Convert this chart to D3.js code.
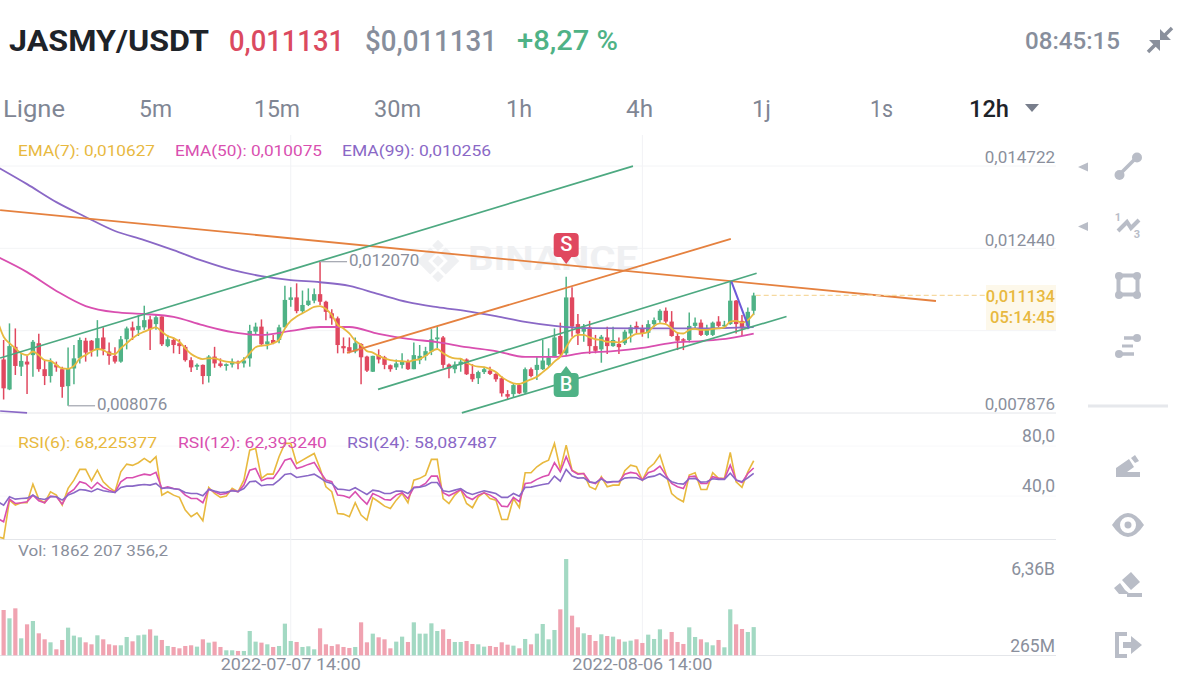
<!DOCTYPE html>
<html><head><meta charset="utf-8">
<script src="https://cdnjs.cloudflare.com/ajax/libs/d3/7.8.5/d3.min.js"></script>
<style>html,body{margin:0;padding:0;background:#fff;overflow:hidden}svg{display:block}text{font-family:Roboto,"Noto Sans",sans-serif}</style>
</head><body><svg id="c" width="1200" height="675"></svg>
<script>
// prices are in thousandths of a USDT; each row is open, close, high, low
const ohlc=[
[9.62,9.16,9.81,8.79],[9.36,8.56,9.90,8.25],[8.53,9.73,10.36,8.51],[9.71,9.18,10.22,8.93],[9.16,9.32,9.53,8.90],[9.30,9.22,9.46,8.40],[9.48,9.85,9.90,8.88],[9.81,9.09,10.07,9.02],[9.09,8.90,9.34,8.65],[8.90,9.30,9.39,8.72],
[9.21,9.14,9.30,9.02],[9.09,8.60,9.16,8.30],[8.62,9.11,9.69,8.076],[9.11,9.39,9.76,8.67],[9.39,9.90,9.97,9.25],[9.88,9.55,9.96,9.30],[9.88,9.60,9.90,9.44],[9.62,9.95,10.45,9.44],[9.97,9.64,10.25,9.48],[9.58,9.46,9.83,9.21],
[9.46,9.30,9.70,9.25],[9.30,9.92,10.01,9.27],[9.92,10.22,10.27,9.64],[10.25,10.16,10.41,9.90],[10.18,10.29,10.59,10.01],[10.25,10.45,10.85,10.18],[10.47,10.20,10.57,9.62],[10.34,10.53,10.59,10.18],[10.55,9.78,10.56,9.73],[9.73,9.92,10.04,9.70],
[9.90,9.76,9.97,9.53],[9.81,9.73,9.92,9.51],[9.71,9.34,9.76,9.30],[9.34,9.14,9.42,9.01],[9.16,9.21,9.25,9.07],[9.21,8.90,9.22,8.67],[8.90,9.44,9.48,8.72],[9.44,9.25,9.71,9.13],[9.25,9.18,9.39,9.14],[9.18,9.23,9.25,9.05],
[9.22,9.30,9.39,9.14],[9.30,9.25,9.33,9.09],[9.25,9.33,9.42,9.14],[9.39,10.15,10.32,9.16],[10.13,10.27,10.38,10.04],[10.27,9.78,10.47,9.76],[9.78,9.86,10.13,9.64],[9.90,9.81,10.04,9.78],[9.90,10.25,10.32,9.81],[10.25,11.01,11.40,10.25],
[11.01,11.08,11.36,10.82],[11.08,10.70,11.47,10.64],[10.70,10.87,11.27,10.64],[10.87,10.99,11.33,10.84],[10.99,11.17,11.33,10.92],[11.17,10.96,12.07,10.87],[10.96,10.68,10.99,10.45],[10.64,10.50,10.75,10.32],[10.50,9.76,10.55,9.53],[9.73,9.67,9.97,9.53],
[9.70,9.58,9.97,9.53],[9.58,9.81,9.97,9.53],[9.79,9.42,9.81,8.67],[9.44,9.05,9.46,9.01],[9.02,9.46,9.46,9.01],[9.48,9.36,9.64,9.25],[9.42,9.21,9.46,9.09],[9.20,9.09,9.22,9.02],[9.14,9.25,9.36,9.07],[9.21,9.30,9.53,9.11],
[9.30,9.09,9.36,9.07],[9.09,9.48,9.83,9.09],[9.34,9.46,9.76,9.23],[9.46,9.59,9.71,9.33],[9.58,9.92,10.20,9.48],[9.92,9.97,10.27,9.67],[9.97,9.21,10.01,9.11],[9.22,9.11,9.25,8.84],[9.09,9.22,9.30,8.98],[9.22,9.30,9.39,9.02],
[9.36,8.95,9.39,8.93],[8.96,8.81,9.23,8.74],[8.84,9.01,9.05,8.68],[9.01,9.09,9.16,8.96],[9.05,8.96,9.16,8.93],[8.96,8.81,8.98,8.74],[8.84,8.42,8.90,8.33],[8.40,8.33,8.51,8.26],[8.40,8.65,8.68,8.30],[8.65,8.42,8.70,8.40],
[8.44,9.09,9.14,8.40],[9.09,8.90,9.14,8.87],[9.07,9.21,9.44,8.79],[9.09,9.33,9.90,9.07],[9.21,9.42,9.67,9.16],[9.42,9.97,10.22,9.42],[10.01,9.51,10.38,9.44],[9.53,11.08,11.65,9.48],[11.08,10.27,11.36,9.99],[10.34,10.08,10.62,9.76],
[10.13,10.25,10.34,9.85],[10.25,9.73,10.43,9.51],[9.73,9.60,10.04,9.53],[9.64,9.99,10.04,9.27],[9.97,9.73,10.27,9.51],[9.73,9.90,10.27,9.71],[9.79,9.70,9.97,9.51],[9.81,10.13,10.18,9.76],[10.08,10.25,10.32,9.83],[10.29,10.22,10.41,10.08],
[10.22,10.08,10.32,9.99],[10.10,10.34,10.45,9.95],[10.34,10.45,10.52,10.25],[10.45,10.71,10.75,10.38],[10.71,10.41,10.80,10.36],[10.41,10.01,10.70,9.99],[10.01,9.88,10.10,9.62],[9.92,9.88,9.95,9.62],[9.90,10.29,10.66,9.83],[10.29,10.38,10.52,10.20],
[10.38,10.04,10.47,10.01],[10.04,10.18,10.32,10.01],[10.04,10.38,10.41,10.01],[10.41,10.29,10.56,10.25],[10.29,10.32,10.43,10.22],[10.34,10.99,11.52,10.32],[10.99,10.34,11.01,10.08],[10.43,10.22,10.59,10.01],[10.29,10.68,10.80,10.20],[10.71,11.134,11.21,10.59]];
const ema7=[10.41,9.99,9.81,9.67,9.53,9.48,9.58,9.48,9.34,9.32,9.21,9.11,9.10,9.18,9.39,9.48,9.58,9.65,9.62,9.53,9.51,9.67,9.81,9.95,10.06,10.13,10.20,10.25,10.13,10.01,9.95,9.85,9.67,9.51,9.42,9.37,9.39,9.39,9.34,9.30,9.28,9.27,9.36,9.53,9.70,9.74,9.76,9.81,9.90,10.22,10.43,10.55,10.64,10.73,10.82,10.84,10.76,10.59,10.32,10.22,10.08,9.88,9.76,9.59,9.55,9.46,9.39,9.34,9.32,9.31,9.30,9.34,9.37,9.46,9.58,9.65,9.53,9.44,9.39,9.38,9.27,9.20,9.16,9.15,9.09,9.01,8.87,8.77,8.70,8.68,8.74,8.81,8.88,9.01,9.14,9.30,9.44,9.70,9.95,10.04,10.04,9.97,9.92,9.90,9.85,9.85,9.83,9.90,9.99,10.07,10.08,10.13,10.29,10.36,10.34,10.22,10.10,10.08,10.18,10.21,10.18,10.18,10.21,10.22,10.25,10.41,10.43,10.38,10.45,10.627];
const ema50Index=[0,5,10,15,20,25,30,35,40,45,50,55,60,65,70,75,80,85,90,95,100,105,110,115,120,125,129];
const ema50=[12.20,11.78,11.26,10.84,10.67,10.62,10.54,10.31,10.12,10.04,10.15,10.26,10.26,10.07,9.93,9.84,9.70,9.59,9.43,9.43,9.54,9.59,9.68,9.82,9.87,9.95,10.075];
const ema99Index=[0,5,10,15,20,25,30,35,40,45,50,55,60,65,70,75,80,85,90,95,100,110,120,129];
const ema99=[14.69,14.22,13.72,13.31,12.92,12.67,12.39,12.09,11.84,11.67,11.56,11.50,11.40,11.17,10.95,10.81,10.70,10.56,10.40,10.29,10.23,10.22,10.22,10.256];
const rsi6=[7.4,6.1,36.7,32.7,34.6,34.6,49.5,37.5,34.6,43.4,40.7,32.7,46.1,52.7,61.3,61.3,52.2,60.7,51.4,46.9,43.4,59.4,65.5,64.5,66.6,70.1,66.9,71.4,40.7,43.4,40.7,38.9,28.7,23.4,26.6,20.2,46.9,42.0,38.9,39.9,46.1,43.4,52.7,76.7,78.1,54.1,57.5,57.5,71.4,82.1,82.1,66.0,68.7,71.4,74.0,62.0,47.4,43.4,26.0,25.5,23.4,34.6,24.7,20.7,38.6,35.4,31.9,30.0,36.7,42.0,34.6,52.7,54.1,56.7,69.3,69.3,38.0,34.0,40.7,45.2,34.0,30.6,39.4,42.8,38.0,36.7,21.2,21.2,38.0,30.8,58.6,58.6,63.4,66.6,68.7,82.0,61.3,80.7,60.7,58.0,58.0,47.4,45.2,55.4,47.4,48.7,48.7,60.2,64.7,63.4,52.7,62.0,66.0,72.7,58.0,42.0,38.0,35.4,56.7,58.6,45.2,45.2,58.6,54.1,54.1,74.8,51.4,46.9,59.4,68.2];
const rsi12=[22.0,19.4,37.5,34.0,34.6,35.4,40.7,36.2,34.6,39.9,39.4,33.5,42.0,45.2,51.4,50.0,46.0,50.8,46.9,44.7,42.8,51.4,54.6,54.6,56.2,57.5,56.7,58.9,46.0,47.4,46.0,45.2,40.7,38.0,38.0,34.6,45.5,43.4,41.2,42.0,44.7,43.4,48.7,60.7,62.0,52.2,54.1,54.1,60.7,68.7,70.0,62.0,63.4,65.3,66.9,59.4,52.7,51.4,40.7,40.2,38.6,43.4,38.0,33.5,42.0,39.9,37.2,36.7,40.7,42.6,38.0,46.9,47.4,50.0,55.9,55.9,42.6,40.2,42.6,45.2,39.4,37.2,40.7,42.6,40.7,38.0,31.9,31.4,38.9,35.4,50.0,50.6,53.3,55.4,56.7,66.6,59.4,71.4,60.2,57.5,58.0,51.4,50.0,54.6,50.6,51.4,51.4,57.5,58.9,58.0,52.7,58.6,60.2,63.9,56.7,50.0,47.4,46.0,55.4,55.9,50.0,50.0,55.4,54.1,53.5,64.7,52.7,50.8,58.0,62.4];
const rsi24=[35.4,32.7,39.4,37.5,38.0,38.3,40.7,38.0,37.2,39.4,39.4,36.7,40.7,42.6,45.2,44.7,43.4,45.8,44.2,43.4,42.8,46.9,47.9,47.9,48.7,49.2,48.7,50.0,46.0,46.6,45.8,45.2,42.8,42.0,42.0,40.2,45.2,43.9,42.8,43.1,44.2,43.6,46.0,51.4,51.9,48.2,49.0,49.0,52.7,57.2,58.0,54.8,55.6,56.4,57.5,54.6,51.4,50.0,45.5,45.2,44.4,46.6,43.9,41.2,44.7,43.9,42.0,42.0,43.9,43.9,42.0,46.6,47.1,48.2,50.8,50.8,44.2,43.4,44.7,46.0,42.8,41.2,42.8,44.2,43.1,42.0,38.9,38.9,42.0,39.9,46.9,47.1,48.2,49.2,50.0,55.9,51.9,61.3,55.9,54.3,54.6,51.1,50.6,53.5,51.1,51.6,51.6,54.3,54.8,54.6,52.7,55.1,55.9,57.8,54.6,51.4,50.0,49.5,53.8,54.1,51.1,51.4,53.8,53.3,53.3,58.3,52.7,51.4,54.6,58.1];
// volume in millions
const volume=[1100,2992,2442,3102,1122,2046,2266,1452,1056,858,396,1012,1826,1298,1188,858,726,1320,1056,726,660,660,1210,924,1320,1364,1716,1298,1012,616,550,462,616,660,572,1056,836,902,550,330,330,286,286,1606,902,836,726,550,616,2090,946,880,550,594,396,1782,726,616,726,550,484,550,2178,858,1430,1188,1056,462,902,1232,880,2178,1430,1430,2112,1606,1716,1078,880,880,946,748,726,572,616,550,858,704,638,462,1078,726,1430,2068,1056,1672,3036,6358,2618,1848,1452,1342,946,1386,1276,1232,1056,902,968,1056,814,1364,1078,1716,1056,1540,880,748,1848,1210,1056,858,660,1012,528,3036,2046,1738,1540,1862];
// drawn trendlines: candle index and price at both ends
const greenLines=[[0.4,9.40,108.4,14.72],[64.9,8.53,129.5,11.75],[79.2,7.88,134.6,10.55]];
const orangeLines=[[0.4,13.50,160.1,10.98],[59.6,9.54,125.1,12.70]];
const violetLine=[125.2,11.52,128.2,10.22];
const bottomStub=[0.4,7.93,5.0,7.88];
const priceTicks=[14.722,12.440,10.158,7.876];
const priceTickLabels=["0,014722","0,012440","","0,007876"];
const rsiTicks=[80,40];
const rsiTickLabels=["80,0","40,0"];
const volTickLabels=["6,36B","265M"];
const dateTickIndex=[50,110];
const dateTickLabels=["2022-07-07 14:00","2022-08-06 14:00"];
const tabs=["Ligne","5m","15m","30m","1h","4h","1j","1s","12h"];
const lastPrice=11.134, highMark=12.07, lowMark=8.076, highIndex=55, lowIndex=12, tradeIndex=97;

const GREEN="#4fb286",RED="#e0485f",GOLD="#e8b93f",MAG="#d94fb0",PUR="#8a68c6",GREY="#8a8f9c",ORG="#e5813f",LGT="#b9bdc7";
const svg=d3.select("#c");
const x=d3.scaleLinear().domain([0,129]).range([-2.24,753.7]);
const y=d3.scaleLinear().domain([14.722,7.876]).range([166,413]);
const yR=d3.scaleLinear().domain([80,40]).range([446,496]);
const yV=d3.scaleLinear().domain([0,6360]).range([655.3,559]);
svg.append("clipPath").attr("id","cp").append("rect").attr("x",0).attr("y",130).attr("width",1056).attr("height",530);
const txt=(g,t,a,b,o)=>{const e=g.append("text").attr("x",a).attr("y",b+2).text(t).attr("fill",o.c).attr("font-size",o.s).attr("font-weight",o.w||400).attr("text-anchor",o.a||"start").attr("dominant-baseline","middle");if(o.l)e.attr("textLength",o.l).attr("lengthAdjust","spacingAndGlyphs");return e;};

// header
const H=svg.append("g");
txt(H,"JASMY/USDT",9,41,{c:"#1e2329",s:30,w:700,l:200});
txt(H,"0,011131",229,41,{c:"#db4a60",s:29,w:500,l:115});
txt(H,"$0,011131",365,41,{c:"#878e9c",s:29,w:500,l:132});
txt(H,"+8,27 %",517,41,{c:"#4fb286",s:28,w:500,l:101});
txt(H,"08:45:15",1025,41,{c:"#878e9c",s:24,w:500,l:95});
// collapse icon
H.append("path").attr("fill","none").attr("stroke","#8a909c").attr("stroke-width",3.5).attr("d","M1172 28L1162 38M1148 52L1158 42");
H.append("path").attr("fill","#8a909c").attr("d","M1160 29L1160 40L1171 40ZM1149 40L1160 40L1160 51Z");
// tabs
const tabX=[3,139,254,374,506,626,752,870,969],tabW=[62,33,46,47,26,27,19,23,40];
tabs.forEach((t,i)=>txt(H,t,tabX[i],109,{c:i==8?"#1e2329":"#7f8694",s:24,w:i==8?500:400,l:tabW[i]}));
H.append("path").attr("fill","#787e8c").attr("d","M1025 104L1039 104L1032 112Z");

// grid
const G=svg.append("g");
priceTicks.forEach((p,i)=>G.append("line").attr("x1",0).attr("x2",1056).attr("y1",y(p)).attr("y2",y(p)).attr("stroke",i==3?"#e4e6ea":"#f3f4f6"));
rsiTicks.forEach(v=>G.append("line").attr("x1",0).attr("x2",1056).attr("y1",yR(v)).attr("y2",yR(v)).attr("stroke","#f8f8fa"));
G.append("line").attr("x1",0).attr("x2",1056).attr("y1",539.5).attr("y2",539.5).attr("stroke","#e4e6ea");
G.append("line").attr("x1",0).attr("x2",1056).attr("y1",655.5).attr("y2",655.5).attr("stroke","#e4e6ea");
dateTickIndex.forEach(i=>G.append("line").attr("x1",x(i)).attr("x2",x(i)).attr("y1",135).attr("y2",655).attr("stroke","#f1f2f5"));

// watermark
const W=svg.append("g").attr("fill","#eff0f2");
W.append("path").attr("transform","translate(438,261) rotate(45)").attr("d","M-15 -15H-7V-7H-15ZM-4 -15H15V4H7V-7H-4ZM-15 -4H-7V7H4V15H-15ZM-4 -4H4V4H-4ZM7 7H15V15H7Z");
txt(W,"BINANCE",468,259,{c:"#eff0f2",s:34,w:700,l:170});

// chart layer
const C=svg.append("g").attr("clip-path","url(#cp)");
const bodyW=4.4,isUp=d=>d[1]>=d[0];
const bars=C.selectAll("g.k").data(ohlc).join("g").attr("class","k");
bars.append("line").attr("x1",(d,i)=>x(i)).attr("x2",(d,i)=>x(i)).attr("y1",d=>y(d[2])).attr("y2",d=>y(d[3])).attr("stroke",d=>isUp(d)?GREEN:RED).attr("stroke-width",1.5);
bars.append("rect").attr("x",(d,i)=>x(i)-bodyW/2).attr("width",bodyW).attr("y",d=>y(Math.max(d[0],d[1]))).attr("height",d=>Math.max(1.5,Math.abs(y(d[0])-y(d[1])))).attr("fill",d=>isUp(d)?GREEN:RED);

const smooth=d3.line().curve(d3.curveMonotoneX);
C.append("path").attr("d",smooth(ema99.map((v,i)=>[x(ema99Index[i]),y(v)]))).attr("fill","none").attr("stroke",PUR).attr("stroke-width",1.8);
C.append("path").attr("d",smooth(ema50.map((v,i)=>[x(ema50Index[i]),y(v)]))).attr("fill","none").attr("stroke",MAG).attr("stroke-width",1.8);
C.append("path").attr("d",smooth(ema7.map((v,i)=>[x(i),y(v)]))).attr("fill","none").attr("stroke",GOLD).attr("stroke-width",1.8);

// trendlines
const seg=(l,c,w)=>C.append("line").attr("x1",x(l[0])).attr("y1",y(l[1])).attr("x2",x(l[2])).attr("y2",y(l[3])).attr("stroke",c).attr("stroke-width",w);
orangeLines.forEach(l=>seg(l,ORG,1.8));
greenLines.forEach(l=>seg(l,"#4da981",1.7));
seg(violetLine,"#6d5ad8",2);
seg(bottomStub,PUR,1.6);

// current price
C.append("line").attr("x1",x(129)+2).attr("x2",985).attr("y1",y(lastPrice)).attr("y2",y(lastPrice)).attr("stroke","#f6d9a0").attr("stroke-width",1.2).attr("stroke-dasharray","5 3");
svg.append("rect").attr("x",986).attr("y",285).attr("width",70).attr("height",45).attr("fill","#fdf8ea");
txt(svg,"0,011134",1055,296,{c:GOLD,s:16.5,w:500,a:"end"});
txt(svg,"05:14:45",1055,317,{c:GOLD,s:16.5,w:500,a:"end"});

// high/low notes
const note=(i,p,t,x2)=>{svg.append("path").attr("d",`M${x(i)} ${y(p)}H${x2}`).attr("stroke","#a0a4ad").attr("stroke-width",1.2).attr("fill","none");txt(svg,t,x2+2,y(p)-2,{c:GREY,s:17});};
note(highIndex,highMark,"0,012070",x(highIndex)+27);
note(lowIndex,lowMark,"0,008076",x(lowIndex)+27);

// S and B markers
const mx=x(tradeIndex);
const mk=(cy,sign,col,t)=>{svg.append("path").attr("fill",col).attr("d",`M${mx-12.5} ${cy-8}q0 -4 4 -4h17q4 0 4 4v16q0 4 -4 4h-17q-4 0 -4 -4z`);
 svg.append("path").attr("fill",col).attr("d",`M${mx-6} ${cy+sign*11}L${mx} ${cy+sign*19}L${mx+6} ${cy+sign*11}Z`);
 txt(svg,t,mx,cy-1,{c:"#fff",s:20,w:500,a:"middle"});};
mk(245,1,"#e0485f","S");
mk(385,-1,"#4fb286","B");

// RSI
const R=svg.append("g").attr("clip-path","url(#cp)");
const rl=d3.line();
[[rsi6,GOLD],[rsi12,MAG],[rsi24,PUR]].forEach(([s,c])=>R.append("path").attr("d",rl(s.map((v,i)=>[x(i),yR(v)]))).attr("fill","none").attr("stroke",c).attr("stroke-width",1.6));

// volume
C.selectAll("rect.v").data(volume).join("rect").attr("class","v").attr("x",(d,i)=>x(i)-2.1).attr("width",4.2).attr("y",d=>yV(d)).attr("height",d=>yV(0)-yV(d)).attr("fill",(d,i)=>isUp(ohlc[i])?"#a3d9c3":"#f0a3b1");

// legends
const L=svg.append("g");
txt(L,"EMA(7): 0,010627",18,150,{c:GOLD,s:15,l:137});
txt(L,"EMA(50): 0,010075",175,150,{c:MAG,s:15,l:147});
txt(L,"EMA(99): 0,010256",342,150,{c:PUR,s:15,l:149});
txt(L,"RSI(6): 68,225377",18,442,{c:GOLD,s:15,l:139});
txt(L,"RSI(12): 62,393240",178,442,{c:MAG,s:15,l:149});
txt(L,"RSI(24): 58,087487",347,442,{c:PUR,s:15,l:150});
txt(L,"Vol: 1862 207 356,2",18,550,{c:GREY,s:15,l:150});

// axis labels
const A=svg.append("g");
priceTicks.forEach((p,i)=>{if(priceTickLabels[i])txt(A,priceTickLabels[i],1055,y(p)-9,{c:GREY,s:17,a:"end"});});
rsiTicks.forEach((v,i)=>txt(A,rsiTickLabels[i],1055,yR(v)-11,{c:GREY,s:17.5,a:"end"}));
txt(A,volTickLabels[0],1055,568,{c:GREY,s:17.5,a:"end"});
txt(A,volTickLabels[1],1055,645,{c:GREY,s:17.5,a:"end"});
dateTickIndex.forEach((i,k)=>txt(A,dateTickLabels[k],x(i)-70,664,{c:GREY,s:17,l:140}));

// side tools
const T=svg.append("g");
const st=(d,w)=>T.append("path").attr("d",d).attr("fill","none").attr("stroke",LGT).attr("stroke-width",w||4);
const dot=(a,b,r)=>T.append("circle").attr("cx",a).attr("cy",b).attr("r",r||4.5).attr("fill",LGT);
T.append("path").attr("fill",LGT).attr("d","M1078 167L1088 162.5V171.5ZM1078 226.5L1088 222V231Z");
st("M1119 175L1137 157",3.5);dot(1119.5,175,5);dot(1137,157.5,5);
st("M1118 231L1127 222L1131 228L1139 220",4);
txt(T,"1",1118,216,{c:LGT,s:11,w:700,a:"middle"});txt(T,"3",1137,233,{c:LGT,s:11,w:700,a:"middle"});
T.append("rect").attr("x",1118.5).attr("y",275.5).attr("width",19).attr("height",19).attr("fill","none").attr("stroke",LGT).attr("stroke-width",4);
[[1119,276],[1137,276],[1119,295],[1137,295]].forEach(p=>dot(p[0],p[1],4));
st("M1124 338H1137",3.5);st("M1122 346H1133",3);st("M1120 354H1134",3.5);dot(1137,338,4);dot(1119,354,4);
T.append("path").attr("fill",LGT).attr("d","M1116 477V468L1129 459L1134 467L1127 472H1140V477ZM1131 458L1135 455L1139 461L1135 463Z");
T.append("path").attr("fill",LGT).attr("fill-rule","evenodd").attr("d","M1112 525Q1128 501 1144 525Q1128 549 1112 525ZM1128 517A8 8 0 1 0 1128.01 533A8 8 0 1 0 1128 517ZM1128 521.5A3.5 3.5 0 1 1 1127.99 528.5A3.5 3.5 0 1 1 1128 521.5Z");
T.append("path").attr("fill",LGT).attr("d","M1131 572L1140 582L1131 590L1122 580ZM1120 583L1125 590L1130 594H1119L1114 588Z");
T.append("rect").attr("x",1127).attr("y",593).attr("width",15).attr("height",4).attr("fill",LGT);
st("M1127 634H1117V656H1127",4);
T.append("path").attr("fill",LGT).attr("d","M1123 642H1131V636L1142 645L1131 654V648H1123Z");
T.append("rect").attr("x",1088).attr("y",404.5).attr("width",80).attr("height",3).attr("fill","#e6e8ec");
</script></body></html>
